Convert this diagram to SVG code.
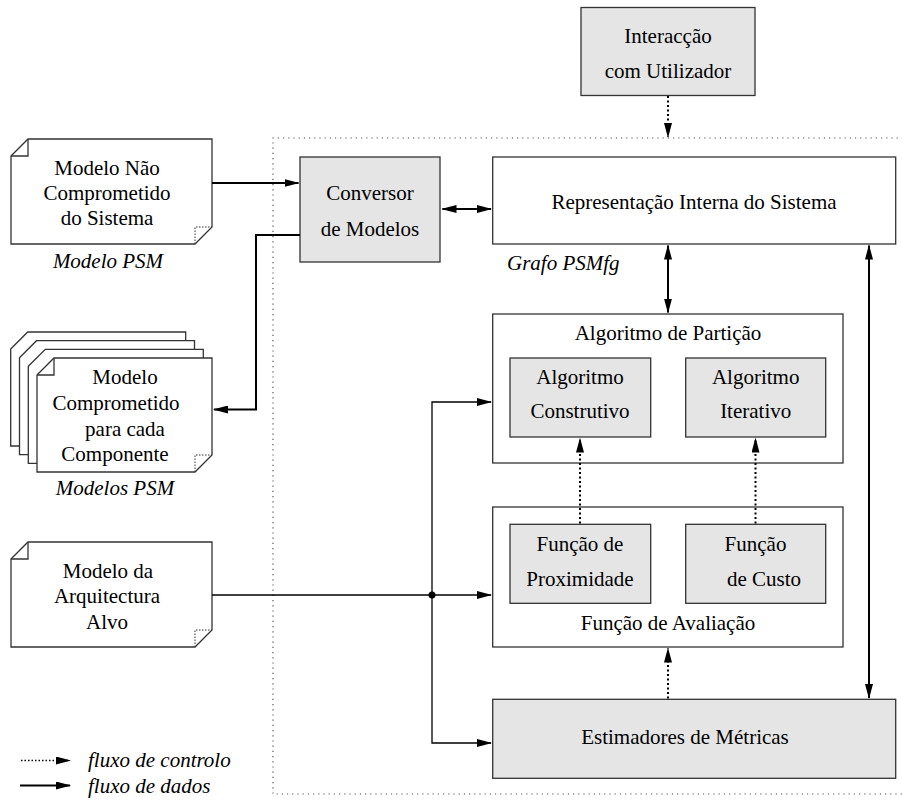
<svg xmlns="http://www.w3.org/2000/svg" width="902" height="800" viewBox="0 0 902 800">
<style>
text { font-family: "Liberation Serif", "Times New Roman", serif; font-size: 21px; fill: #000; }
.c { text-anchor: middle; }
.it { font-style: italic; }
.box { fill: #fff; stroke: #333; stroke-width: 1.3; }
.grey { fill: #e5e5e5; stroke: #333; stroke-width: 1.3; }
.doc { fill: #fff; stroke: #333; stroke-width: 1.3; }
.flap { fill: none; stroke: #333; stroke-width: 1.3; }
.ear { fill: none; stroke: #333; stroke-width: 1; stroke-dasharray: 1.5 1.5; }
.data { fill: none; stroke: #000; stroke-width: 2; }
.thin { fill: none; stroke: #000; stroke-width: 1.3; }
.ctrl { fill: none; stroke: #000; stroke-width: 2; stroke-dasharray: 2 2.5; }
.lctrl { fill: none; stroke: #000; stroke-width: 1.4; stroke-dasharray: 1.5 2; }
.bound { fill: none; stroke: #555; stroke-width: 1.2; stroke-dasharray: 1.2 4; }
</style>
<defs>
  <marker id="ah" viewBox="0 0 15 8" refX="14" refY="4" markerWidth="15" markerHeight="8" markerUnits="userSpaceOnUse" orient="auto-start-reverse">
    <path d="M0,0 L15,4 L0,8 z" fill="#000"/>
  </marker>
</defs>

<!-- system boundary -->
<path class="bound" d="M903,138 H273 V794 H903"/>

<!-- input / output model documents -->
<g id="modelo-nao-comprometido">
  <polygon class="doc" points="11,156 28,139 212,139 212,227 195,244 11,244"/>
  <path class="flap" d="M28,139 V156 H11"/>
  <path class="ear" d="M195,244 V227 H212"/>
  <text class="c" x="107" y="175">Modelo Não</text>
  <text class="c" x="107" y="200">Comprometido</text>
  <text class="c" x="107" y="225">do Sistema</text>
  <text class="c it" x="108" y="268">Modelo PSM</text>
</g>

<g id="modelos-comprometidos">
  <polygon class="doc" points="10.7,349 27.7,332 185.7,332 185.7,446 10.7,446"/>
  <polygon class="doc" points="19.5,357.7 36.5,340.7 194.5,340.7 194.5,454.7 19.5,454.7"/>
  <polygon class="doc" points="28.3,366.3 45.3,349.3 203.3,349.3 203.3,463.3 28.3,463.3"/>
  <polygon class="doc" points="37,375 54,358 212,358 212,455 195,472 37,472"/>
  <path class="flap" d="M54,358 V375 H37"/>
  <path class="ear" d="M195,472 V455 H212"/>
  <text class="c" x="125" y="384">Modelo</text>
  <text class="c" x="116" y="410">Comprometido</text>
  <text class="c" x="125" y="435.5">para cada</text>
  <text class="c" x="115" y="461">Componente</text>
  <text class="c it" x="115" y="495">Modelos PSM</text>
</g>

<g id="modelo-arquitectura">
  <polygon class="doc" points="11,559 28,542 212,542 212,630 195,647 11,647"/>
  <path class="flap" d="M28,542 V559 H11"/>
  <path class="ear" d="M195,647 V630 H212"/>
  <text class="c" x="108" y="577.5">Modelo da</text>
  <text class="c" x="107" y="603">Arquitectura</text>
  <text class="c" x="107" y="629">Alvo</text>
</g>

<!-- processing blocks -->
<g id="interaccao">
  <rect class="grey" x="581" y="7.5" width="174" height="88"/>
  <text class="c" x="668" y="43">Interacção</text>
  <text class="c" x="668" y="78">com Utilizador</text>
</g>

<g id="conversor">
  <rect class="grey" x="300" y="157" width="140" height="105"/>
  <text class="c" x="370" y="200">Conversor</text>
  <text class="c" x="370" y="236">de Modelos</text>
</g>

<g id="representacao">
  <rect class="box" x="492.7" y="157" width="403" height="87"/>
  <text class="c" x="694" y="208.5">Representação Interna do Sistema</text>
  <text class="it" x="507" y="270">Grafo PSMfg</text>
</g>

<g id="algoritmo-particao">
  <rect class="box" x="492.7" y="314" width="350.3" height="149"/>
  <text class="c" x="668" y="340">Algoritmo de Partição</text>
</g>
<g id="algoritmo-construtivo">
  <rect class="grey" x="510" y="358" width="140.7" height="79"/>
  <text class="c" x="580" y="384">Algoritmo</text>
  <text class="c" x="580" y="418">Construtivo</text>
</g>
<g id="algoritmo-iterativo">
  <rect class="grey" x="685.7" y="358" width="140" height="79"/>
  <text class="c" x="755.7" y="384">Algoritmo</text>
  <text class="c" x="755.7" y="418">Iterativo</text>
</g>

<g id="funcao-avaliacao">
  <rect class="box" x="492.7" y="507" width="350.3" height="140"/>
  <text class="c" x="668" y="629.5">Função de Avaliação</text>
</g>
<g id="funcao-proximidade">
  <rect class="grey" x="510" y="524.3" width="140.7" height="79"/>
  <text class="c" x="580" y="551">Função de</text>
  <text class="c" x="580" y="585.5">Proximidade</text>
</g>
<g id="funcao-custo">
  <rect class="grey" x="685.7" y="524.3" width="140" height="79"/>
  <text class="c" x="755.5" y="551">Função</text>
  <text class="c" x="764" y="585.5">de Custo</text>
</g>

<g id="estimadores">
  <rect class="grey" x="492.7" y="699.3" width="403" height="79"/>
  <text class="c" x="685" y="744">Estimadores de Métricas</text>
</g>

<!-- connectors -->
<g id="connectors">
  <path class="data" d="M212,183 H298.5" marker-end="url(#ah)"/>
  <path class="data" d="M300,235 H256 V409.5 H214" marker-end="url(#ah)"/>
  <path class="data" d="M442.5,209 H491" marker-start="url(#ah)" marker-end="url(#ah)"/>
  <path class="data" d="M668,245.5 V312.5" marker-start="url(#ah)" marker-end="url(#ah)"/>
  <path class="data" d="M869,245.5 V698" marker-start="url(#ah)" marker-end="url(#ah)"/>
  <path class="ctrl" d="M668,96 V137" marker-end="url(#ah)"/>
  <path class="ctrl" d="M580,523.5 V438.5" marker-end="url(#ah)"/>
  <path class="ctrl" d="M755.5,523.5 V438.5" marker-end="url(#ah)"/>
  <path class="ctrl" d="M668,698.5 V648.5" marker-end="url(#ah)"/>
  <path class="thin" d="M212,595 H491" marker-end="url(#ah)"/>
  <path class="thin" d="M491,402 H432 V743 H491" marker-start="url(#ah)" marker-end="url(#ah)"/>
  <circle cx="432" cy="595" r="3.5" fill="#000"/>
</g>

<!-- legend -->
<g id="legenda">
  <path class="lctrl" d="M21,760.5 H70" marker-end="url(#ah)"/>
  <path class="data" d="M20,785.5 H70" marker-end="url(#ah)"/>
  <text class="it" x="88" y="767">fluxo de controlo</text>
  <text class="it" x="88" y="793">fluxo de dados</text>
</g>
</svg>
